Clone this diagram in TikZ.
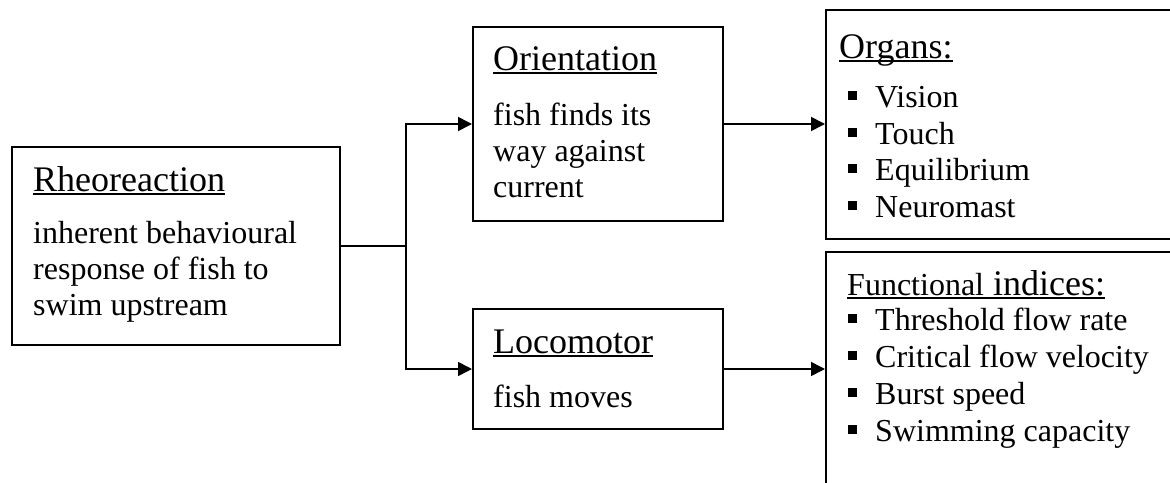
\documentclass[tikz,border=0pt]{standalone}
\usepackage{fontspec}
\setmainfont{Liberation Serif}
\usetikzlibrary{arrows.meta}
\newcommand{\ulx}[1]{\setbox0\hbox{#1}\rlap{\rule[-4pt]{\wd0}{1.8pt}}\box0}
\newcommand{\bsq}{\rule[7pt]{9pt}{9pt}\hspace{18pt}}
\tikzset{
  box/.style={draw, line width=2pt, rectangle, inner sep=0pt},
  body/.style={anchor=base west, inner sep=0pt, font=\fontsize{32}{37}\selectfont},
  ttl/.style={anchor=base west, inner sep=0pt, font=\fontsize{36}{41}\selectfont},
  arr/.style={line width=1.6pt, -{Triangle[length=14pt,width=14pt]}},
  ln/.style={line width=1.6pt}
}
\begin{document}
\begin{tikzpicture}[x=1pt,y=-1pt]
\useasboundingbox (0,0) rectangle (1170,482);
\clip (0,0) rectangle (1170,482);
% boxes
\node[box, minimum width=328pt, minimum height=198pt] (rheo) at (176,246) {};
\node[box, minimum width=250pt, minimum height=194pt] (orient) at (598,124) {};
\node[box, minimum width=250pt, minimum height=120pt] (loco) at (598,369) {};
\node[box, minimum width=360pt, minimum height=229pt] (organs) at (1006,124.5) {};
\node[box, minimum width=360pt, minimum height=234pt] (func) at (1006,369) {};
% texts
\node[ttl] (t1) at (33,191) {\ulx{Rheoreaction}};
\node[body] (r1) at (33,243) {inherent behavioural};
\node[body] (r2) at (33,279) {response of fish to};
\node[body] (r3) at (33,315) {swim upstream};
\node[ttl] (t2) at (493,70) {\ulx{Orientation}};
\node[body] (o1) at (493,125) {fish finds its};
\node[body] (o2) at (493,161) {way against};
\node[body] (o3) at (493,197) {current};
\node[ttl] (t3) at (493,353) {\ulx{Locomotor}};
\node[body] (l1) at (493,407) {fish moves};
\node[ttl] (t4) at (839,58) {\ulx{Organs:}};
\node[body] (g1) at (848,107) {\bsq Vision};
\node[body] (g2) at (848,144) {\bsq Touch};
\node[body] (g3) at (848,180) {\bsq Equilibrium};
\node[body] (g4) at (848,217) {\bsq Neuromast};
\node[body] (t5) at (847,295) {\ulx{Functional\fontsize{36}{41}\selectfont{} indices:}};
\node[body] (f1) at (848,330) {\bsq Threshold flow rate};
\node[body] (f2) at (848,367) {\bsq Critical flow velocity};
\node[body] (f3) at (848,404) {\bsq Burst speed};
\node[body] (f4) at (848,441) {\bsq Swimming capacity};
% connectors
\coordinate (j) at (406,246);
\draw[ln] (rheo.east) -- (j);
\draw[arr] (j) |- (orient.west);
\draw[arr] (j) |- (loco.west);
\draw[arr] (orient.east) -- (orient.east -| organs.west);
\draw[arr] (loco.east) -- (loco.east -| func.west);
\end{tikzpicture}
\end{document}
